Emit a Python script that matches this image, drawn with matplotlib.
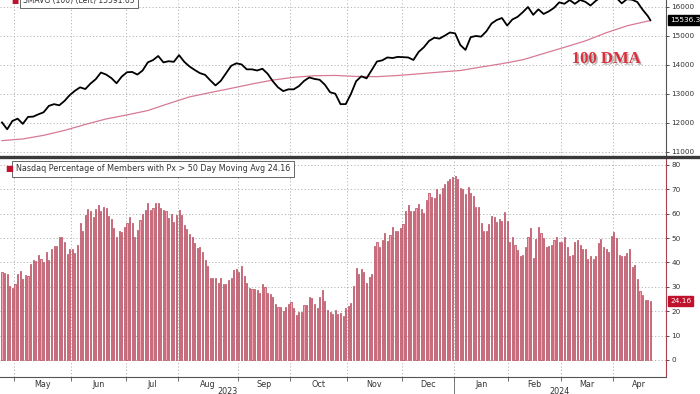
import numpy as np
import pandas as pd
import matplotlib
matplotlib.use("Agg")
import matplotlib.pyplot as plt
import matplotlib.patheffects as pe
from matplotlib.lines import Line2D

# NYSE sessions shown on the chart
holidays = ["2023-05-29", "2023-06-19", "2023-07-04", "2023-09-04", "2023-11-23",
            "2023-12-25", "2024-01-01", "2024-01-15", "2024-02-19", "2024-03-29"]
days = pd.bdate_range("2023-04-24", "2024-04-19", freq="C", holidays=holidays)

# % of Nasdaq members above 50 DMA, one value per session
pct_members = [
    36.2, 35.8, 35.1, 30.3, 29.6, 31.1, 35.2, 36.5, 33.1, 34.8, 34.6, 39.3, 41.0, 40.6, 43.0,
    41.4, 40.3, 44.1, 41.0, 45.4, 46.9, 46.9, 50.5, 50.3, 48.5, 43.3, 45.5, 45.4, 44.0, 47.1,
    56.3, 53.0, 59.4, 61.7, 61.2, 58.5, 61.7, 63.5, 61.1, 62.8, 62.2, 59.0, 57.7, 54.0,
    50.3, 53.0, 52.6, 54.6, 56.3, 58.7, 56.0, 50.3, 53.3, 57.4, 59.7, 61.5, 64.5, 61.5, 62.4,
    64.2, 64.5, 62.2, 61.5, 61.2, 58.1, 59.8, 56.7, 59.4, 61.5, 59.4, 55.3, 53.6, 51.6, 50.3,
    47.8, 45.8, 46.2, 44.4, 41.0, 38.5, 33.5, 33.5, 33.5, 31.4, 33.5, 31.1, 31.1, 32.8,
    33.5, 36.9, 37.2, 36.2, 38.5, 34.4, 31.7, 29.4, 29.0, 29.0, 28.7, 27.3, 31.0, 29.8, 27.3,
    27.0, 25.7, 23.0, 21.9, 21.9, 20.2, 21.9, 23.0, 23.8, 21.4, 18.4, 19.8, 19.8, 22.5, 22.5,
    25.7, 25.5, 23.0, 21.4, 25.7, 28.7, 24.3, 20.5, 19.8, 18.9, 20.5, 18.9, 19.4, 18.0,
    21.2, 22.3, 23.2, 30.3, 37.6, 35.2, 37.2, 36.2, 31.7, 33.9, 35.2, 46.7, 48.2, 46.4, 49.2,
    51.9, 48.9, 51.2, 54.4, 52.9, 53.0, 54.0, 55.7, 61.1, 63.5, 61.1, 61.2, 62.4, 63.9, 61.9,
    60.1, 65.6, 68.6, 66.7, 66.3, 69.9, 67.9, 70.4, 72.1, 73.4, 74.2, 75.1, 75.4, 74.2,
    70.4, 69.9, 67.9, 71.0, 68.6, 67.2, 62.8, 62.6, 56.0, 52.9, 52.9, 55.7, 59.0, 58.5, 56.7,
    57.7, 57.1, 60.8, 57.1, 48.5, 50.3, 47.1, 45.1, 42.8, 43.0, 46.2, 50.3, 54.0, 42.0, 49.6,
    54.4, 52.2, 49.9, 46.4, 46.7, 47.1, 49.2, 50.3, 48.5, 48.5, 50.3, 46.2, 42.6, 43.0,
    48.5, 49.2, 47.1, 45.4, 45.4, 41.4, 42.8, 41.3, 42.8, 48.1, 49.5, 46.2, 45.4, 44.4, 50.8,
    52.6, 49.9, 43.0, 42.8, 42.8, 44.0, 45.4, 38.0, 38.9, 33.1, 28.3, 26.6, 24.6, 24.6, 24.16,
]

# Nasdaq Composite, read every second session, then the last print
nasdaq = [
    12010, 11773, 12060, 12140, 11960, 12200, 12210, 12290, 12360, 12580,
    12640, 12600, 12750, 12950, 13100, 13220, 13160, 13350, 13500, 13730,
    13660, 13540, 13360, 13590, 13740, 13750, 13660, 13800, 14080, 14160,
    14300, 14080, 14120, 14100, 14330, 14100, 13940, 13820, 13710, 13650,
    13460, 13285, 13440, 13700, 13960, 14048, 14010, 13840, 13840, 13800,
    13860, 13690, 13430, 13220, 13090, 13152, 13150, 13260, 13440, 13560,
    13510, 13480, 13310, 13050, 13000, 12640, 12640, 12990, 13430, 13600,
    13530, 13818, 14110, 14150, 14250, 14230, 14270, 14260, 14250, 14163,
    14440, 14600, 14820, 14930, 14900, 15000, 15110, 15082, 14680, 14510,
    14950, 14990, 14967, 15150, 15420, 15542, 15610, 15350, 15560, 15650,
    15810, 15990, 15720, 15909, 15750, 15840, 15960, 16150, 16100, 16230,
    16100, 16231, 16170, 16040, 16200, 16330, 16380, 16350, 16300, 16116,
    16260, 16240, 16160, 15900, 15680,
]
nasdaq_last = 15536.33

# 100 DMA, read every eighth session, then the last value
dma_100 = [
    11382, 11440, 11565, 11735, 11940, 12130, 12268, 12420, 12660, 12890,
    13040, 13185, 13335, 13470, 13565, 13620, 13630, 13595, 13588, 13628,
    13685, 13745, 13800, 13920, 14035, 14170, 14385, 14600, 14820, 15100,
    15340, 15505,
]
dma_last = 15515

pct_label = "Nasdaq Percentage of Members with Px > 50 Day Moving Avg 24.16"
top_label = "SMAVG (100) (Left) 15591.65"

n = len(pct_members)
x = np.arange(n)
last = n - 1
px_x = np.append(np.arange(0, last, 2), last)
px_y = np.append(nasdaq, nasdaq_last)
dma_x = np.append(np.arange(0, last, 8), last)
dma_y = np.append(dma_100, dma_last)

W, H = 700, 394
fig = plt.figure(figsize=(7, 3.94), dpi=100)
fx = lambda p: p / W
fy = lambda p: 1 - p / H

ax1 = fig.add_axes([0, fy(156), fx(666), fy(0) - fy(156)])
ax2 = fig.add_axes([0, fy(377), fx(666), fy(159) - fy(377)])

grid_kw = dict(color="#b5b5b5", lw=0.7, ls=(0, (1.2, 2.2)))
dk = "#333333"
red = "#c0122c"

# month boundaries / label positions from the session calendar
months = days.to_period("M")
starts = [i for i in range(1, len(days)) if months[i] != months[i - 1]]
bounds = [s - 0.5 for s in starts]
edges = [-0.5] + bounds + [len(days) + 5]
centers = [(edges[k] + edges[k + 1]) / 2 for k in range(len(edges) - 1)]
mlabels = [m.strftime("%b") for m in months.unique()]
mlabels[0] = ""  # first stub month is too narrow for a label

for ax in (ax1, ax2):
    ax.set_xlim(-0.76, 255)
    for b in bounds:
        ax.axvline(b, zorder=0, **grid_kw)
    ax.grid(axis="y", zorder=0, **grid_kw)
    ax.yaxis.tick_right()
    ax.spines[["top", "left"]].set_visible(False)
    ax.tick_params(axis="y", labelsize=5.2, colors=dk, length=2.5, width=0.6, pad=1.5)

# ---- top panel
ax1.plot(dma_x, dma_y, color="#d77a93", lw=0.9, zorder=2)
ax1.plot(px_x, px_y, color="black", lw=1.3, zorder=3)
ax1.set_ylim(10852, 16231)
ax1.set_yticks(np.arange(11000, 16001, 1000))
ax1.set_xticks([])
ax1.spines["bottom"].set_visible(False)
ax1.spines["right"].set_color("#555555")
ax1.text(232, 14197, "100 DMA", family="Liberation Serif", weight="bold", fontsize=12,
         color="#d9303c", ha="center", va="center",
         path_effects=[pe.withSimplePatchShadow(offset=(1.2, -1.2), shadow_rgbFace="#888888", alpha=0.6)])
ax1.annotate(f"{nasdaq_last:.2f}", xy=(1.006, nasdaq_last), xycoords=("axes fraction", "data"),
             fontsize=5.3, color="white", va="center", ha="left",
             bbox=dict(boxstyle="square,pad=0.25", fc="black", ec="black"))
ax1.text(0.035, 1.0, top_label, transform=ax1.transAxes, fontsize=5.5, color=dk, va="center",
         family=["Liberation Sans Narrow", "DejaVu Sans"],
         bbox=dict(boxstyle="square,pad=0.4", fc="white", ec="#666666", lw=0.7))
ax1.text(0.017, 1.0, "\u25a0", transform=ax1.transAxes, fontsize=5.5, color=red, va="center")

# ---- bottom panel
ax2.bar(x, pct_members, width=0.42, color="#f6a5b2", edgecolor="#a22a3e", lw=0.42, zorder=2)
ax2.set_ylim(-6.97, 82.4)
ax2.set_yticks(np.arange(0, 81, 10))
ax2.spines["right"].set_color("#a8404f")
ax2.spines["bottom"].set_color("#555555")
ax2.set_xticks(bounds)
ax2.set_xticklabels([])
ax2.tick_params(axis="x", which="major", length=3, width=0.6, colors="#555555")
ax2.set_xticks(centers, minor=True)
ax2.set_xticklabels(mlabels, minor=True, fontsize=5.8, color=dk)
ax2.tick_params(axis="x", which="minor", length=0, pad=2)
ax2.annotate(f"{pct_members[-1]:.2f}", xy=(1.006, pct_members[-1]), xycoords=("axes fraction", "data"),
             fontsize=5.3, color="white", va="center", ha="left",
             bbox=dict(boxstyle="square,pad=0.25", fc=red, ec=red))
ax2.text(0.024, 0.955, pct_label, transform=ax2.transAxes, fontsize=5.8, color=dk,
         va="center", family=["Liberation Sans Narrow", "DejaVu Sans"], zorder=5,
         bbox=dict(boxstyle="square,pad=0.45", fc="white", ec="#666666", lw=0.7))
ax2.text(0.008, 0.955, "\u25a0", transform=ax2.transAxes, fontsize=6, color=red, va="center",
         zorder=6)

# year labels and divider
jan = bounds[mlabels.index("Jan") - 1]
x2fig = lambda v: fx(666) * (v + 0.76) / 255.76
fig.text(x2fig((edges[0] + jan) / 2), fy(391), "2023", fontsize=5.8, color=dk, ha="center", va="center")
fig.text(x2fig((jan + 255) / 2), fy(391), "2024", fontsize=5.8, color=dk, ha="center", va="center")
fig.add_artist(Line2D([x2fig(jan)] * 2, [fy(381), fy(394)], color="#777777", lw=0.7))

# panel separator
fig.add_artist(Line2D([0, 1], [fy(157.5)] * 2, color="#3a3a3a", lw=2.4))

fig.savefig("out.png", dpi=100)
